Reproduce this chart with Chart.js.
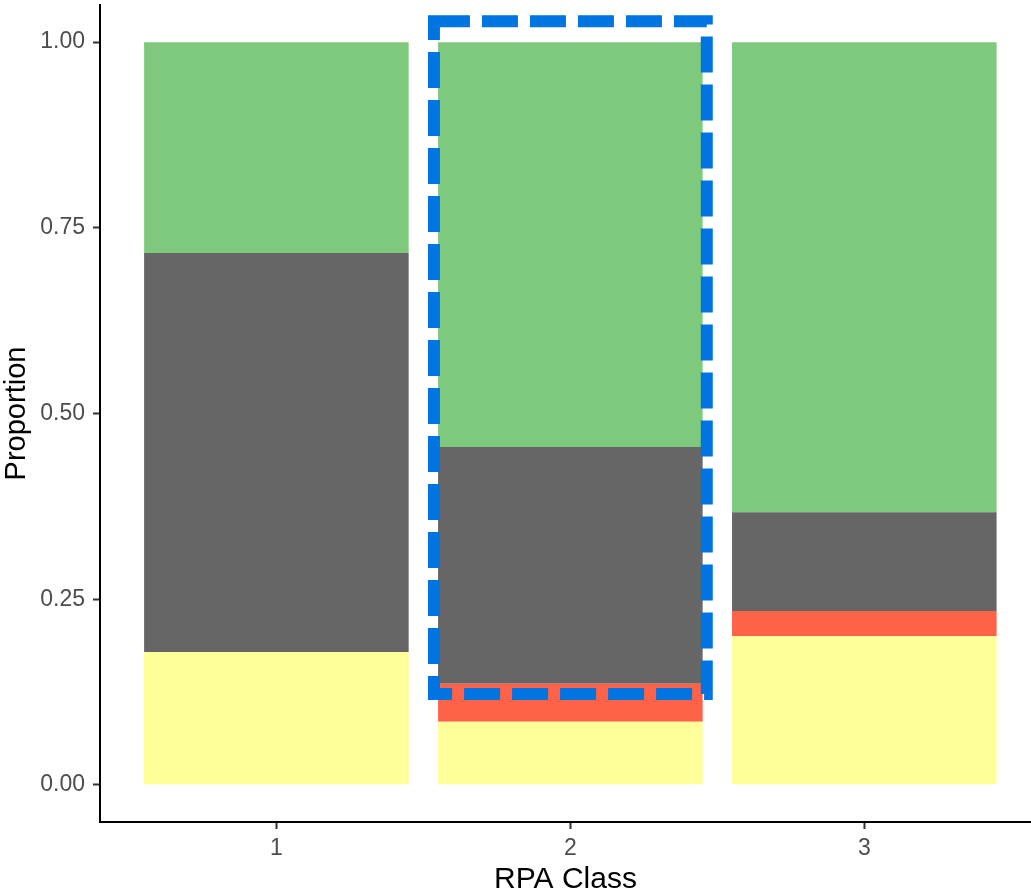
<!DOCTYPE html>
<html>
<head>
<meta charset="utf-8">
<script src="https://cdn.jsdelivr.net/npm/chart.js@4"></script>
<style>
  body { margin: 0; background: #fff; overflow: hidden; }
</style>
</head>
<body>
<canvas id="chartDiv" width="1031" height="895"></canvas>
<script>
// data
const classes = ["1", "2", "3"];
const yellowVals = [0.179, 0.085, 0.200];
const redVals = [0.000, 0.051, 0.034];
const greyVals = [0.537, 0.319, 0.133];
const greenVals = [0.284, 0.545, 0.633];
const yTicks = [0, 0.25, 0.5, 0.75, 1];

// highlighted class (dashed box)
const boxClass = 2;
const boxLow = 0.1225;
const boxHigh = 1.028;

function pts(vals) {
  return vals.map((v, i) => ({ x: i + 1, y: v }));
}

const dashBox = {
  id: "dashBox",
  afterDatasetsDraw(chart) {
    const ctx = chart.ctx;
    const xs = chart.scales.x;
    const ys = chart.scales.y;
    const x1 = xs.getPixelForValue(boxClass - 0.464);
    const x2 = xs.getPixelForValue(boxClass + 0.464);
    const y1 = ys.getPixelForValue(boxHigh);
    const y2 = ys.getPixelForValue(boxLow);
    ctx.save();
    ctx.strokeStyle = "#0074e0";
    ctx.lineWidth = 12;
    ctx.setLineDash([36, 12]);
    ctx.strokeRect(x1, y1, x2 - x1, y2 - y1);
    ctx.restore();
  },
};

const canvasDiv = document.getElementById("chartDiv");
var chart = new Chart(canvasDiv, {
  type: "bar",
  data: {
    datasets: [
      { label: "yellow", data: pts(yellowVals), backgroundColor: "#ffff99" },
      { label: "red", data: pts(redVals), backgroundColor: "#ff6347" },
      { label: "grey", data: pts(greyVals), backgroundColor: "#666666" },
      { label: "green", data: pts(greenVals), backgroundColor: "#7fc97f" },
    ],
  },
  options: {
    responsive: false,
    animation: false,
    categoryPercentage: 0.9,
    barPercentage: 1.0,
    borderWidth: 0,
    layout: { padding: { top: 5, left: 0, right: 0, bottom: 0 } },
    plugins: {
      legend: { display: false },
      tooltip: { enabled: false },
    },
    scales: {
      x: {
        type: "linear",
        stacked: true,
        offset: false,
        min: 0.4,
        max: 3.567,
        afterBuildTicks: (scale) => {
          scale.ticks = classes.map((c, i) => ({ value: i + 1 }));
        },
        afterFit: (scale) => {
          scale.height = 73;
          scale.paddingLeft = 0;
          scale.paddingRight = 0;
        },
        ticks: {
          callback: (v) => classes[v - 1],
          color: "#4d4d4d",
          font: { family: "Liberation Sans", size: 23 },
          padding: 6,
          maxRotation: 0,
        },
        grid: {
          offset: false,
          drawOnChartArea: false,
          tickLength: 7,
          tickColor: "#333333",
          tickWidth: 2,
        },
        border: { display: true, color: "#000000", width: 2 },
        title: {
          display: true,
          text: "RPA Class",
          color: "#000000",
          font: { family: "Liberation Sans", size: 30 },
          padding: { top: 0, bottom: -3 },
        },
      },
      y: {
        stacked: true,
        min: -0.05,
        max: 1.05,
        afterBuildTicks: (scale) => {
          scale.ticks = yTicks.map((v) => ({ value: v }));
        },
        afterFit: (scale) => {
          scale.width = 100;
          scale.paddingTop = 0;
          scale.paddingBottom = 0;
        },
        ticks: {
          callback: (v) => v.toFixed(2),
          color: "#4d4d4d",
          font: { family: "Liberation Sans", size: 23 },
          padding: 8,
        },
        grid: {
          drawOnChartArea: false,
          tickLength: 7,
          tickColor: "#333333",
          tickWidth: 2,
        },
        border: { display: true, color: "#000000", width: 2 },
        title: {
          display: true,
          text: "Proportion",
          color: "#000000",
          font: { family: "Liberation Sans", size: 29 },
          padding: { top: 0, bottom: 0 },
        },
      },
    },
  },
  plugins: [dashBox],
});
</script>
</body>
</html>
